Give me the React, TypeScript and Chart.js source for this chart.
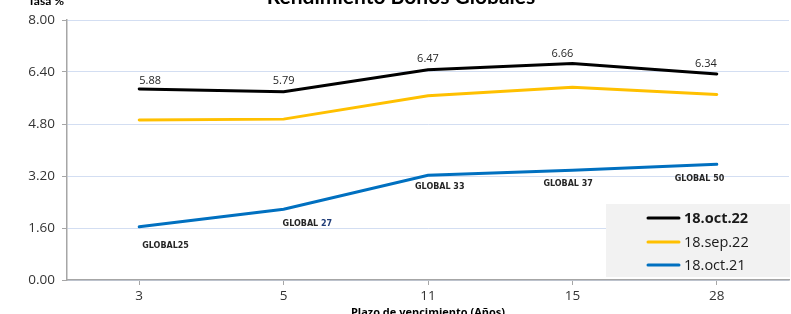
import React, { useEffect, useRef } from "react";
import { Chart, registerables } from "chart.js";

Chart.register(...registerables);

const CATEGORIES = ["3", "5", "11", "15", "28"];
const SERIES_OCT22 = [5.88, 5.79, 6.47, 6.66, 6.34];
const SERIES_SEP22 = [4.92, 4.95, 5.67, 5.93, 5.71];
const SERIES_OCT21 = [1.64, 2.18, 3.22, 3.38, 3.56];
const SERIES_NAMES = ["18.oct.22", "18.sep.22", "18.oct.21"];
const BOND_LABELS = ["GLOBAL25", "GLOBAL 27", "GLOBAL 33", "GLOBAL 37", "GLOBAL 50"];
const BOND_NUMBER_HIGHLIGHT = [false, true, false, false, false];
const Y_TICKS = [0, 1.6, 3.2, 4.8, 6.4, 8.0];
const TITLE = "Rendimiento Bonos Globales";
const Y_TITLE = "Tasa %";
const X_TITLE = "Plazo de vencimiento (Años)";

const COLORS = ["#000000", "#ffc000", "#0070c0"];

// label placement styles (pixel offsets relative to points)
const VALUE_ALIGN: CanvasTextAlign[] = ["left", "center", "center", "center", "right"];
const VALUE_DX = [0, 0, 0, -10, 0];
const VALUE_DY = [-8, -11, -11, -10, -10];
const BOND_DX = [3, -1, -13, -29, -42];
const BOND_DY = [19, 15, 12, 14, 15];

const FONT = "'Open Sans', sans-serif";

const labelsPlugin = {
  id: "customLabels",
  afterDatasetsDraw(chart: any) {
    const ctx = chart.ctx as CanvasRenderingContext2D;
    ctx.save();
    const m0 = chart.getDatasetMeta(0);
    ctx.font = `11px ${FONT}`;
    ctx.fillStyle = "#262626";
    ctx.textBaseline = "middle";
    m0.data.forEach((pt: any, i: number) => {
      ctx.textAlign = VALUE_ALIGN[i];
      ctx.fillText(SERIES_OCT22[i].toFixed(2), pt.x + VALUE_DX[i], pt.y + VALUE_DY[i]);
    });
    const m2 = chart.getDatasetMeta(2);
    ctx.font = `bold 8px 'DejaVu Sans', sans-serif`;
    ctx.textAlign = "left";
    m2.data.forEach((pt: any, i: number) => {
      const label = BOND_LABELS[i];
      const x = pt.x + BOND_DX[i];
      const y = pt.y + BOND_DY[i];
      if (BOND_NUMBER_HIGHLIGHT[i]) {
        const idx = label.lastIndexOf(" ") + 1;
        const a = label.slice(0, idx);
        const b = label.slice(idx);
        ctx.fillStyle = "#262626";
        ctx.fillText(a, x, y);
        ctx.fillStyle = "#1f3c78";
        ctx.fillText(b, x + ctx.measureText(a).width, y);
      } else {
        ctx.fillStyle = "#262626";
        ctx.fillText(label, x, y);
      }
    });
    ctx.restore();
  },
  afterDraw(chart: any) {
    const ctx = chart.ctx as CanvasRenderingContext2D;
    const ca = chart.chartArea;
    ctx.save();
    ctx.fillStyle = "#000";
    ctx.font = `bold 21px Lato, sans-serif`;
    ctx.textAlign = "center";
    ctx.textBaseline = "alphabetic";
    ctx.fillText(TITLE, 401, 4);
    ctx.font = `bold 12px Lato, sans-serif`;
    ctx.textAlign = "left";
    ctx.fillText(Y_TITLE, 28, 5);
    ctx.font = `bold 11px ${FONT}`;
    ctx.textAlign = "center";
    ctx.fillText(X_TITLE, (ca.left + ca.right) / 2, 316);
    const lx = 606, ly = 204, lw = 184, lh = 73;
    ctx.fillStyle = "#f2f2f2";
    ctx.fillRect(lx, ly, lw, lh);
    const rows = [218, 242, 265];
    chart.data.datasets.forEach((ds: any, i: number) => {
      ctx.strokeStyle = ds.borderColor;
      ctx.lineWidth = 3;
      ctx.lineCap = "round";
      ctx.beginPath();
      ctx.moveTo(648, rows[i]);
      ctx.lineTo(679, rows[i]);
      ctx.stroke();
      ctx.fillStyle = "#1a1a1a";
      ctx.font = `${i === 0 ? "bold " : ""}14.5px ${FONT}`;
      ctx.textAlign = "left";
      ctx.textBaseline = "middle";
      ctx.fillText(ds.label, 684, rows[i] + 1);
    });
    ctx.restore();
  },
};

export default function App() {
  const ref = useRef<HTMLCanvasElement>(null);
  useEffect(() => {
    if (!ref.current) return;
    const chart = new Chart(ref.current, {
      type: "line",
      data: {
        labels: CATEGORIES,
        datasets: [
          { label: SERIES_NAMES[0], data: SERIES_OCT22, borderColor: COLORS[0], backgroundColor: COLORS[0] },
          { label: SERIES_NAMES[1], data: SERIES_SEP22, borderColor: COLORS[1], backgroundColor: COLORS[1] },
          { label: SERIES_NAMES[2], data: SERIES_OCT21, borderColor: COLORS[2], backgroundColor: COLORS[2] },
        ],
      },
      options: {
        responsive: false,
        animation: false,
        devicePixelRatio: 1,
        layout: { padding: { top: 20, right: 2, left: 0, bottom: 0 } },
        elements: {
          line: { borderWidth: 3, tension: 0, borderCapStyle: "round" },
          point: { radius: 0, hoverRadius: 0 },
        },
        plugins: { legend: { display: false }, title: { display: false }, tooltip: { enabled: false } },
        scales: {
          x: {
            offset: true,
            grid: { display: true, drawOnChartArea: false, offset: false, tickLength: 5, tickColor: "#a6a6a6" },
            border: { color: "#a6a6a6", width: 1.5 },
            ticks: { color: "#333", font: { family: "'Open Sans', sans-serif", size: 13.5 }, padding: 3 },
            afterFit: (s: any) => { s.height = 34; },
          },
          y: {
            min: 0,
            max: 8,
            afterBuildTicks: (s: any) => { s.ticks = Y_TICKS.map((v) => ({ value: v })); },
            grid: { color: "#d3def2", tickLength: 5, tickColor: "#a6a6a6", lineWidth: 1 },
            border: { color: "#a6a6a6", width: 1.5 },
            ticks: {
              color: "#333",
              font: { family: "'Open Sans', sans-serif", size: 13.5 },
              padding: 7,
              callback: (v: any) => Number(v).toFixed(2),
            },
            afterFit: (s: any) => { s.width = 67; },
          },
        },
      },
      plugins: [labelsPlugin],
    });
    return () => chart.destroy();
  }, []);
  return (
    <div style={{ position: "absolute", left: 0, top: 0 }}>
      <canvas ref={ref} width={791} height={314} style={{ display: "block" }} />
    </div>
  );
}
